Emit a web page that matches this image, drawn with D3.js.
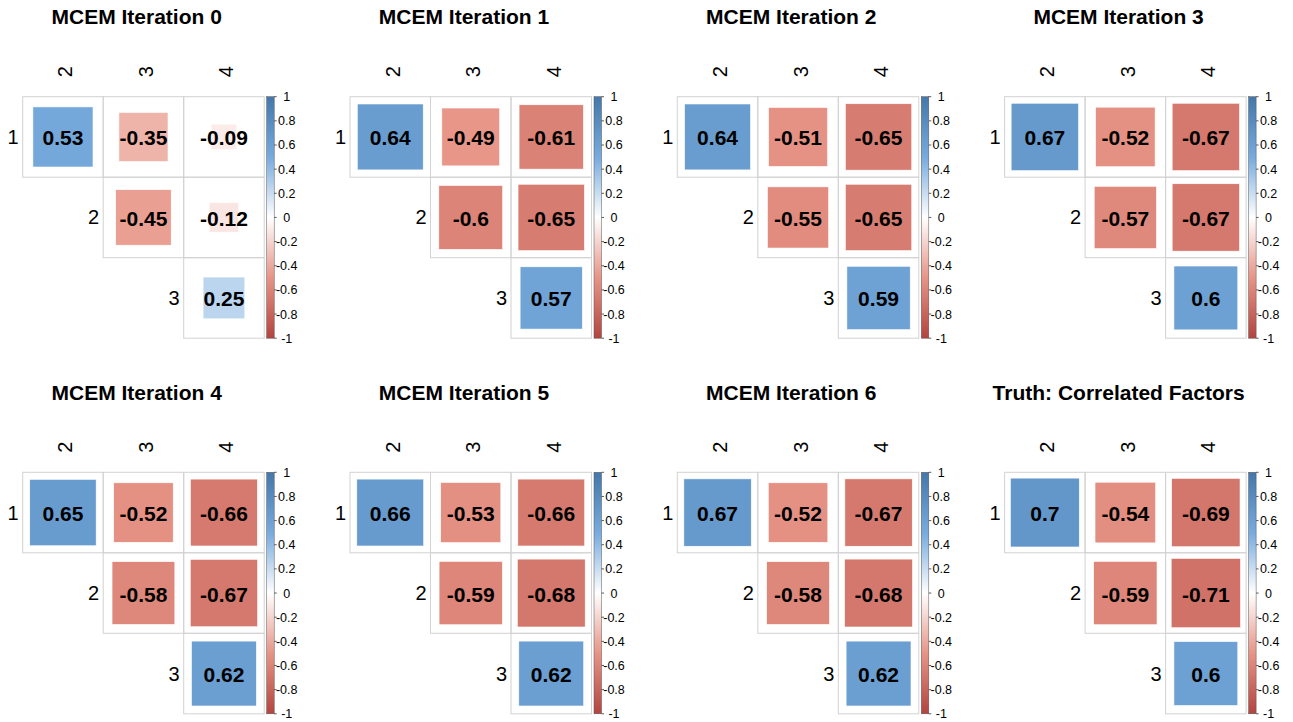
<!DOCTYPE html>
<html>
<head>
<meta charset="utf-8">
<script src="https://cdn.jsdelivr.net/npm/d3@7"></script>
<style>
  body { margin: 0; background: #fff; }
  svg { display: block; }
  text { font-family: "Liberation Sans", Arial, Helvetica, sans-serif; fill: #000; }
</style>
</head>
<body>
<svg id="chart" width="1293" height="722"></svg>
<script>
// Panel titles
const titles = [
  "MCEM Iteration 0", "MCEM Iteration 1", "MCEM Iteration 2", "MCEM Iteration 3",
  "MCEM Iteration 4", "MCEM Iteration 5", "MCEM Iteration 6", "Truth: Correlated Factors"
];

// Row / column variable labels of the upper triangle
const rowLabels = ["1", "2", "3"];
const colLabels = ["2", "3", "4"];

// Upper-triangle correlations, order: (1,2) (1,3) (1,4) (2,3) (2,4) (3,4)
const iter0 = [0.53, -0.35, -0.09, -0.45, -0.12, 0.25];
const iter1 = [0.64, -0.49, -0.61, -0.6, -0.65, 0.57];
const iter2 = [0.64, -0.51, -0.65, -0.55, -0.65, 0.59];
const iter3 = [0.67, -0.52, -0.67, -0.57, -0.67, 0.6];
const iter4 = [0.65, -0.52, -0.66, -0.58, -0.67, 0.62];
const iter5 = [0.66, -0.53, -0.66, -0.59, -0.68, 0.62];
const iter6 = [0.67, -0.52, -0.67, -0.58, -0.68, 0.62];
const truth = [0.7, -0.54, -0.69, -0.59, -0.71, 0.6];

// Colour legend tick values
const legendTicks = [1, 0.8, 0.6, 0.4, 0.2, 0, -0.2, -0.4, -0.6, -0.8, -1];

const panelValues = [iter0, iter1, iter2, iter3, iter4, iter5, iter6, truth];

// Layout
const cell = 80.5;
const gridSize = cell * colLabels.length;
const originX = 22.7, stepX = 327.3;
const originY = 96.7, stepY = 375.6;

const svg = d3.select("#chart");

// diverging red - white - blue palette
const color = d3.scaleLinear()
  .domain([-1, -0.5, 0, 0.5, 1])
  .range(["#B3443F", "#E69486", "#FFFFFF", "#77AADD", "#4477AA"]);

// square area proportional to |r|
const side = d3.scaleSqrt().domain([0, 1]).range([0, cell]);

const xBand = d3.scaleBand().domain(colLabels).range([0, gridSize]);
const yBand = d3.scaleBand().domain(rowLabels).range([0, gridSize]);
const yLegend = d3.scaleLinear().domain([1, -1]).range([0, gridSize]);

// Gradient for the colour bar
const defs = svg.append("defs");
const grad = defs.append("linearGradient")
  .attr("id", "corrGrad").attr("x1", 0).attr("y1", 0).attr("x2", 0).attr("y2", 1);
d3.range(0, 1.0001, 0.05).forEach(t => {
  grad.append("stop").attr("offset", t).attr("stop-color", color(1 - 2 * t));
});

// upper-triangle index pairs (row, col) in the same order as the value arrays
const pairs = [];
rowLabels.forEach((r, i) => colLabels.forEach((c, j) => { if (j >= i) pairs.push({ r, c }); }));

panelValues.forEach((vals, p) => {
  const gx = originX + (p % 4) * stepX;
  const gy = originY + Math.floor(p / 4) * stepY;
  const g = svg.append("g").attr("transform", `translate(${gx},${gy})`);
  const cells = pairs.map((d, k) => ({ ...d, v: vals[k] }));

  // title
  g.append("text")
    .attr("x", 114).attr("y", -72.7)
    .attr("text-anchor", "middle")
    .style("font-size", "21px").style("font-weight", "bold")
    .text(titles[p]);

  // grid
  g.selectAll("rect.grid").data(cells).join("rect")
    .attr("class", "grid")
    .attr("x", d => xBand(d.c)).attr("y", d => yBand(d.r))
    .attr("width", cell).attr("height", cell)
    .attr("fill", "none").attr("stroke", "#D2D2D2").attr("stroke-width", 1);

  // squares
  g.selectAll("rect.sq").data(cells).join("rect")
    .attr("class", "sq")
    .attr("x", d => xBand(d.c) + cell / 2 - (side(Math.abs(d.v)) + 1.5) / 2)
    .attr("y", d => yBand(d.r) + cell / 2 - (side(Math.abs(d.v)) + 1.5) / 2)
    .attr("width", d => side(Math.abs(d.v)) + 1.5)
    .attr("height", d => side(Math.abs(d.v)) + 1.5)
    .attr("fill", d => color(d.v))
    .attr("stroke", "#FFFFFF").attr("stroke-width", 0.6);

  // values
  g.selectAll("text.val").data(cells).join("text")
    .attr("class", "val")
    .attr("x", d => xBand(d.c) + cell / 2)
    .attr("y", d => yBand(d.r) + cell / 2 + 1)
    .attr("text-anchor", "middle").attr("dominant-baseline", "central")
    .style("font-size", "21px").style("font-weight", "bold")
    .text(d => String(d.v));

  // column labels (rotated)
  g.selectAll("text.col").data(colLabels).join("text")
    .attr("class", "col")
    .attr("transform", c => `translate(${xBand(c) + cell / 2 + 2.5},${-19.5}) rotate(-90)`)
    .attr("text-anchor", "start").attr("dominant-baseline", "central")
    .style("font-size", "20px")
    .text(c => c);

  // row labels, left of the first cell in each row
  g.selectAll("text.row").data(rowLabels).join("text")
    .attr("class", "row")
    .attr("x", (r, i) => xBand(colLabels[i]) - 4)
    .attr("y", r => yBand(r) + cell / 2)
    .attr("text-anchor", "end").attr("dominant-baseline", "central")
    .style("font-size", "20px")
    .text(r => r);

  // colour bar
  const lx = gridSize + 2.5, lw = 7.5;
  g.append("rect")
    .attr("x", lx).attr("y", 0).attr("width", lw).attr("height", gridSize)
    .attr("fill", "url(#corrGrad)")
    .attr("stroke", "#555").attr("stroke-width", 0.5);
  g.selectAll("line.tick").data(legendTicks).join("line")
    .attr("class", "tick")
    .attr("x1", lx + lw).attr("x2", lx + lw + 2.5)
    .attr("y1", d => yLegend(d)).attr("y2", d => yLegend(d))
    .attr("stroke", "#333").attr("stroke-width", 0.8);
  g.selectAll("text.lt").data(legendTicks).join("text")
    .attr("class", "lt")
    .attr("x", lx + lw + 12.5)
    .attr("y", d => yLegend(d) + 0.5)
    .attr("text-anchor", "middle").attr("dominant-baseline", "central")
    .style("font-size", "12.5px")
    .text(d => String(d));
});
</script>
</body>
</html>
